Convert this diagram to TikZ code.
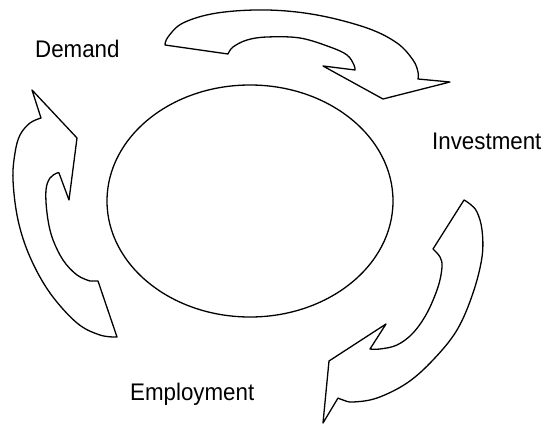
\documentclass[tikz,border=0pt]{standalone}
\usepackage{fontspec}
\setmainfont{Liberation Sans}[FakeStretch=0.93]
\begin{document}
\begin{tikzpicture}[x=1pt,y=-1pt,
  shapeline/.style={draw=black,line width=1.3pt,line join=round,fill=white},
  lbl/.style={font=\fontsize{24}{26}\selectfont,anchor=base west,inner sep=0pt}]
\useasboundingbox (0,0) rectangle (548,425);
% central ellipse
\draw[shapeline] (250,201) ellipse [x radius=143, y radius=116];
% top arrow
\draw[shapeline] (165,45) -- (228,54)
  -- plot[smooth,tension=0.6] coordinates {(228,54) (233,47) (247,40) (267,37) (300,38) (330,47) (347,55) (354,65) (355,70)}
  -- (323,66) -- (383,99) -- (450,82) -- (418,79)
  -- plot[smooth,tension=0.6] coordinates {(418,79) (418,72) (413,60) (397,43) (367,28) (317,15) (267,10) (217,13) (183,23) (168,37) (165,45)}
  -- cycle;
% left arrow
\draw[shapeline] (32,90) -- (41,118)
  -- plot[smooth,tension=0.6] coordinates {(41,118) (30,123) (20,135) (15,153) (13,180) (18,220) (30,257) (50,293) (77,323) (100,335) (117,337)}
  -- (98,281) -- (90,281)
  -- plot[smooth,tension=0.6] coordinates {(90,281) (77,275) (63,260) (52,237) (47,213) (46,190) (50,178) (57,173) (59,173)}
  -- (69,200) -- (77,138) -- cycle;
% right arrow
\draw[shapeline] (464,200)
  -- plot[smooth,tension=0.6] coordinates {(464,200) (470,204) (477,212) (482,230) (482,257) (473,293) (457,330) (433,360) (407,383) (377,398) (353,402) (343,400) (338,398)}
  -- (323,423) -- (329,361) -- (386,324) -- (370,349)
  -- plot[smooth,tension=0.6] coordinates {(370,349) (380,349) (397,345) (413,333) (427,313) (438,287) (442,267) (440,257) (433,249)}
  -- cycle;
% labels
\node[lbl] (demand) at (35,58) {Demand};
\node[lbl] (invest) at (432,149) {Investment};
\node[lbl] (employ) at (130,400) {Employment};
\end{tikzpicture}
\end{document}
